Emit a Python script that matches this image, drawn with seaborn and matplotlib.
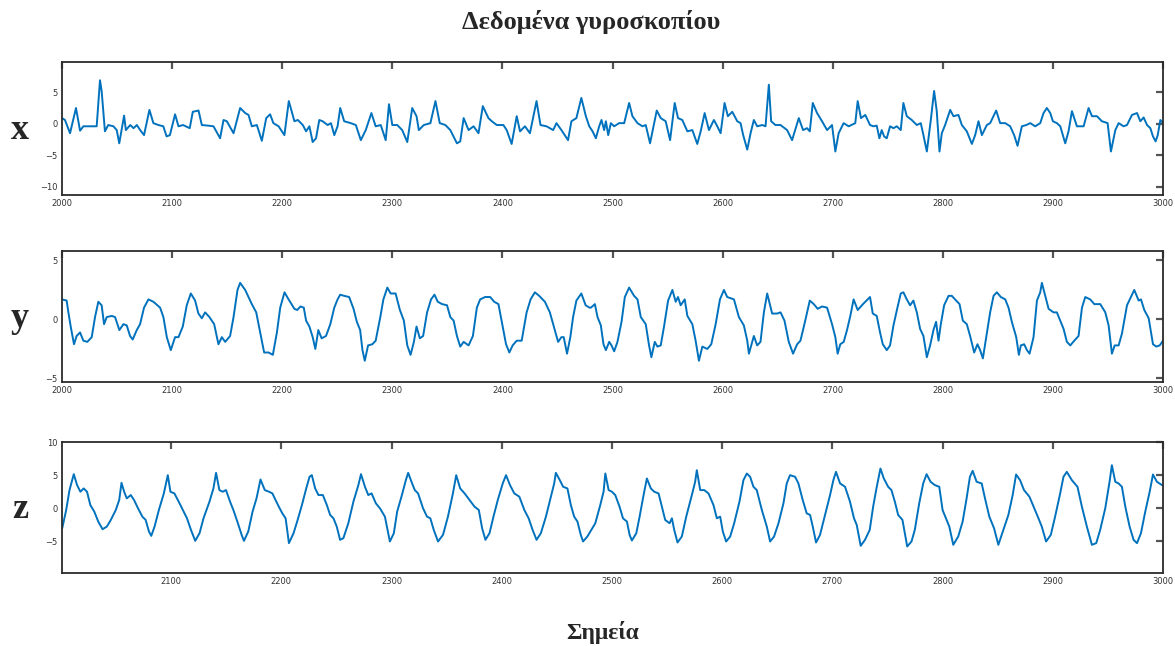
import matplotlib
matplotlib.use("Agg")
import matplotlib.pyplot as plt
import seaborn as sns
import pandas as pd

# ---------------- data ----------------
gx_t = [2000, 2002.7, 2007.3, 2012.7, 2016.4, 2019.4, 2031.5, 2034.5, 2036, 2039, 2042, 2046.7, 2049.7, 2052, 2056.4, 2058, 2062, 2065, 2068, 2071,
        2074.5, 2079.4, 2083, 2087.6, 2092, 2095, 2098, 2102.7, 2105.8, 2110, 2116, 2118.8, 2124, 2127, 2133, 2137.6, 2143.6, 2146.7, 2149.7, 2155.8,
        2161.8, 2166.4, 2169.4, 2172.4, 2177, 2181.5, 2185.5, 2189, 2192, 2196.7, 2202, 2206,
        2211.1, 2214.2, 2218.7, 2221.7, 2224.7, 2227.7, 2230.7, 2233.7, 2236.7, 2241.3, 2244.3, 2247.3, 2250.3, 2252.7, 2256.3, 2262.3, 2266.9, 2271.4,
        2275.9, 2281, 2284.9, 2289.5, 2294, 2297, 2300, 2304.5, 2309, 2313.6, 2318.1, 2322, 2324.1, 2328.6, 2334.6, 2339.2, 2343.1, 2348.2, 2352.7,
        2358.7, 2361.7, 2364.8, 2369.3, 2373.8, 2378.3, 2382.2, 2387.3, 2390.4, 2394.9, 2400.9, 2403.9, 2408.4, 2413, 2416, 2420.5, 2425, 2431,
        2434.6, 2440.1, 2446.1, 2449.1, 2453.6, 2459.6, 2462.7, 2467.2, 2471.7,
        2475.8, 2478.9, 2481.9, 2484.9, 2487.9, 2490, 2492.4, 2494, 2496.1, 2498.5, 2501.5, 2506, 2510.6, 2515.1, 2518.1, 2522.7, 2527.2, 2530.2,
        2534.1, 2536.3, 2540.2, 2543.8, 2548.3, 2552.3, 2556.5, 2559.5, 2563.4, 2568, 2572.5, 2577, 2580.1, 2583.7, 2587.6, 2592.1, 2595.2, 2598.2,
        2601.8, 2604.8, 2608.8, 2613.3, 2616.3, 2618.7, 2622.4, 2625.4, 2628.4, 2631.4, 2636, 2639, 2642, 2644.1, 2648, 2652.6, 2658.6, 2663.1,
        2669.2, 2673.1, 2676.7, 2679.2, 2681.9, 2685.8, 2690.3, 2694.9, 2699.4, 2702.4, 2705.4, 2709.9, 2714.5, 2720.5, 2722.7, 2725.7, 2729.6,
        2733.9, 2737, 2740, 2742.4, 2744.5, 2746.7, 2749.1, 2752.1, 2755.2, 2758.2, 2761.8, 2764.2, 2767.3, 2771.8, 2776.4, 2780, 2782.4, 2785.5,
        2789.1, 2792.1, 2794.5, 2797, 2799.1, 2802.1, 2806.7, 2809.7, 2814.2, 2817.3, 2821.8, 2826.4, 2829.4, 2832.4, 2835.5, 2840, 2843, 2848.5,
        2852.1, 2856.7, 2861.2, 2864.8, 2867.9, 2871.8, 2875.8, 2879.4, 2883.9, 2888.5, 2891.5, 2894.5, 2897.6, 2900, 2903.6, 2906.7, 2911.2,
        2914.2, 2917.3, 2921.8, 2927.9, 2932.4, 2935.5, 2940, 2944.5, 2949.7, 2952.7, 2956.7, 2959.7, 2964.2, 2967.3, 2971.8, 2976.4, 2979.4,
        2982.4, 2985.5, 2988.5, 2990.9, 2993.3, 2995.2, 2997.6, 3000]
gx_v = [0.9, 0.6, -1.5, 2.5, -1.1, -0.4, -0.4, 6.9, 5.2, -1.2, -0.2, -0.4, -1.0, -3.1, 1.3, -1.0, -0.2, -0.7, -0.2, -1.0,
        -1.8, 2.2, 0.1, -0.2, -0.4, -2.0, -1.8, 1.5, -0.4, -0.2, -0.7, 1.9, 2.1, -0.2, -0.3, -0.4, -2.3, 0.6, 0.4, -1.5,
        2.5, 1.7, 1.4, -0.4, -0.2, -2.7, 0.9, 1.5, 0.1, -0.4, -1.8, 3.6,
        0.4, 0.6, -0.2, -1.2, -0.4, -2.9, -2.3, 0.6, 0.4, -0.2, 0.1, -1.8, -0.4, 2.5, 0.4, 0.1, -0.2, -2.6, -1.0, 1.7,
        -0.4, -0.2, -2.6, 3.1, -0.2, -0.2, -1.0, -2.9, 2.5, 1.2, -1.0, -0.2, 0.1, 3.6, 0.1, -0.2, -1.0, -3.1, -2.8, 0.9,
        -1.0, -0.4, -1.5, 2.8, 0.9, 0.4, -0.2, -0.2, -1.0, -3.2, 1.2, -1.2, -0.4, -1.5, 3.6, -0.2, -0.4, -1.0, 0.1, -1.0,
        -2.6, 0.4, 0.9, 4.1,
        1.2, -0.4, -1.2, -2.3, -0.4, 0.6, -1.0, 0.4, -1.8, 0.1, -0.4, 0.1, 0.1, 3.3, 1.2, 0.1, -0.4, -0.2, -3.1, -1.2,
        2.1, 0.9, 0.4, -2.6, 3.3, 0.9, 0.6, -1.2, -1.0, -3.2, -1.2, 1.7, -1.0, 0.6, -0.4, -1.5, 3.3, 1.2, 1.9, 0.4,
        0.1, -1.8, -4.1, -1.5, 0.6, -0.4, -0.2, -0.4, 6.2, 0.4, -0.2, -0.2, -1.0, -2.6, 0.9, -1.0, -0.7, -1.2, 3.3, 1.7,
        0.4, -1.0, -0.2, -4.4, -1.5, 0.1, -0.4, 0.1, 3.6, 0.9, 1.4,
        -0.2, -0.4, -0.3, -2.3, -1.0, -2.0, -2.3, -0.4, -0.7, -0.4, -1.0, 3.3, 1.2, 0.6, -0.2, 0.1, -1.8, -4.4, 0.6, 5.2,
        2.0, -4.4, -1.5, -0.2, 2.2, 1.2, 1.4, -0.2, -1.2, -3.2, -1.8, 0.4, -1.8, -0.2, 0.1, 2.1, 0.1, 0.1, -0.4, -1.8,
        -3.5, -0.4, -0.2, 0.1, -0.4, 0.1, 1.7, 2.5, 1.7, 0.4, 0.1, -0.4, -3.1, -1.2, 2.0, -0.4, -0.4, 2.5, 1.2, 1.2,
        0.4, 0.1, -4.4, -1.0, 0.1, -0.4, -0.2, 1.4, 1.7, 0.4, 1.0, -0.2, -0.7, -2.0, -2.8, -1.8, 0.6, 0.1]

gy_t = [2000, 2004.2, 2005.8, 2007.9, 2010.9, 2013.3, 2016.4, 2019.4, 2023, 2027, 2030, 2033, 2036, 2038.2, 2040.6, 2045.2, 2048.2, 2052.1,
        2055.8, 2058.8, 2061.8, 2064.2, 2067.9, 2070.9, 2074.5, 2078.5, 2083, 2089.1, 2092.1, 2095.2, 2098.8, 2102.7, 2105.8, 2109.7, 2113.3,
        2117, 2120.9, 2123.9, 2127, 2130, 2133.9, 2138.2, 2142.1, 2145.2, 2148.2, 2152.7, 2155.8, 2159.4, 2161.8, 2166.4, 2172.4, 2176.4, 2180,
        2183.6, 2187.6, 2191.5, 2195.2, 2198.2, 2202.1, 2205.8,
        2211.1, 2213.6, 2216.6, 2219.6, 2221.7, 2224.7, 2227.7, 2230.1, 2232.8, 2235.8, 2239.8, 2243.7, 2247.3, 2250.3, 2252.7, 2256.3, 2260.8,
        2264.8, 2267.8, 2270.8, 2272.9, 2275, 2278, 2281.9, 2284.9, 2288.9, 2291.9, 2295.5, 2298.5, 2303, 2306.9, 2310.5, 2313.6, 2316.6, 2319.6,
        2322, 2325, 2328, 2331.6, 2335.2, 2338.3, 2341.3, 2345.2, 2349.7, 2352.7, 2355.7, 2358.7, 2361.7, 2364.8, 2369.3, 2373.2, 2376.8, 2379.8,
        2384.3, 2388.9, 2392.5, 2396.4, 2399.4, 2403.3, 2406.3, 2409.3, 2413, 2417.5, 2422, 2425.6, 2429.5, 2433.4, 2438.6, 2443.1, 2446.7,
        2450.6, 2453.6, 2455.7, 2458.7, 2461.7, 2464.2, 2467.2, 2471.7, 2475.6, 2479.2,
        2480.4, 2484, 2486.4, 2489.4, 2491.8, 2494, 2497, 2499.1, 2501.5, 2504.5, 2508.2, 2511.2, 2515.1, 2519.6, 2522.7, 2525.7, 2530.2, 2533.2,
        2535.3, 2538.4, 2540.8, 2543.8, 2546.8, 2550.5, 2554.4, 2557.4, 2559.5, 2561.9, 2565.6, 2568, 2572.5, 2575.5, 2578.5, 2581.6, 2586.1,
        2589.7, 2593.7, 2597.6, 2601.2, 2604.2, 2610.3, 2614.8, 2619.3, 2622.4, 2623.9, 2626, 2628.4, 2631.4, 2634.4, 2637.5, 2640.5, 2645,
        2649.5, 2652.6, 2656.2, 2660.1, 2664, 2667.7, 2670.7, 2674.3, 2679.2, 2682.8, 2686.4, 2690.3, 2694.9, 2699.4, 2702.4, 2704.5, 2706.9,
        2710, 2713, 2716, 2719, 2722.7, 2727.5,
        2733.9, 2736.4, 2740, 2743, 2745.5, 2749.1, 2752.1, 2755.2, 2758.8, 2761.8, 2764.2, 2767.3, 2770.3, 2773.3, 2776.4, 2779.4, 2782.4,
        2785.5, 2788.5, 2791.5, 2793.9, 2796.1, 2798.2, 2801.2, 2805.2, 2808.2, 2812.1, 2815.2, 2818.2, 2821.8, 2824.8, 2828.5, 2831.5, 2833.9,
        2836.4, 2839.4, 2843, 2846.1, 2849.1, 2852.7, 2856.7, 2859.7, 2862.7, 2866.7, 2869.1, 2870.9, 2873.9, 2876.4, 2878.8, 2882.4, 2885.5,
        2888.5, 2890, 2893, 2896.1, 2900.6, 2903.6, 2906.7, 2909.7, 2912.7, 2915.8, 2919.4, 2923.3, 2926.4, 2929.4, 2933.9, 2937.6, 2943,
        2947.6, 2950.6, 2953.6, 2956.1, 2959.7, 2962.7, 2967.3, 2970.9, 2973.9, 2977.9, 2980, 2983, 2987, 2990.9, 2993.9, 2997, 3000]
gy_v = [1.7, 1.6, 0.6, -0.6, -2.1, -1.4, -1.1, -1.8, -1.9, -1.5, 0.2, 1.5, 1.2, -0.4, 0.2, 0.3, 0.2, -0.9, -0.4, -0.5,
        -1.4, -1.7, -0.9, -0.4, 1.0, 1.7, 1.5, 1.0, 0.2, -1.5, -2.6, -1.5, -1.5, -0.6, 1.2, 2.2, 1.6, 0.5, 0.1, 0.6,
        0.2, -0.4, -2.1, -1.5, -1.9, -1.4, 0.2, 2.5, 3.1, 2.5, 1.3, 0.6, -1.1, -2.8, -2.8, -3.0, -1.1, 1.0, 2.3, 1.7,
        0.9, 0.8, 1.1, 1.0, -0.1, -0.6, -1.5, -2.5, -0.9, -1.6, -1.4, -0.4, 1.0, 1.7, 2.1, 2.0, 1.9, 0.9, -0.2, -0.9,
        -2.6, -3.5, -2.2, -2.1, -1.8, 0.1, 1.7, 2.7, 2.2, 2.2, 0.8, -0.1, -2.2, -3.0, -1.9, -0.6, -1.6, -1.4, 0.6, 1.7,
        2.1, 1.5, 1.3, 1.2, 0.2, -0.1, -1.4, -2.3, -1.9, -2.2, -1.4, 1.0, 1.7, 1.9, 1.9, 1.5, 1.3, -0.2, -2.1, -2.8,
        -2.2, -1.8, -1.8, 0.6, 1.7, 2.3, 2.0, 1.5, 0.6, -0.6, -1.9, -1.5, -1.5, -2.9, -1.5, 0.2, 1.6, 2.2, 1.2, 1.0,
        1.0, 1.3, 0.2, -0.5, -2.1, -2.6, -1.9, -2.2, -2.7, -1.9, -0.2, 1.9, 2.7, 2.0, 1.7, 0.2, -0.4, -2.2, -3.2, -1.9,
        -2.3, -2.2, -0.6, 1.6, 2.5, 1.5, 1.9, 1.2, 1.7, 0.3, -0.4, -1.8, -3.5, -2.3, -2.5, -2.1, -0.4, 1.7, 2.5, 1.9,
        1.7, 0.2, -0.5, -1.8, -2.9, -2.2, -1.4, -2.2, -1.9, 0.6, 2.2, 0.5, 0.5, 0.6, -0.1, -1.9, -2.9, -2.1, -1.8, -0.4,
        1.6, 1.3, 0.9, 1.1, 1.0, -0.4, -1.5, -2.9, -2.1, -1.9, -0.9, 0.3, 1.7, 0.8, 1.3,
        1.9, 0.5, 0.3, -1.1, -2.1, -2.6, -2.2, -0.5, 1.0, 2.2, 2.3, 1.7, 1.2, 1.6, 0.6, -0.8, -1.4, -3.2, -2.2, -0.9,
        -0.2, -1.8, -0.4, 1.2, 2.0, 2.0, 1.6, 1.3, -0.1, -0.4, -1.4, -2.8, -2.1, -2.6, -3.3, -1.5, 0.6, 2.0, 2.3, 1.9,
        1.7, 1.0, -0.2, -1.5, -3.0, -2.2, -2.1, -2.6, -2.9, -1.5, 1.6, 2.3, 3.1, 2.0, 0.9, 0.6, 0.6, -0.1, -0.8, -1.9,
        -2.2, -1.8, -1.4, 1.0, 1.9, 1.7, 1.3, 1.3, 0.6, -0.5, -2.9, -2.2, -2.2, -1.2, 1.2, 1.9, 2.5, 1.6, 1.7, 0.8,
        0.1, -2.1, -2.3, -2.2, -1.8]

gz_t = [2001.2, 2004.8, 2007.8, 2011.7, 2014.7, 2017.7, 2020.7, 2023.7, 2026.7, 2030.3, 2033.9, 2037.8, 2041.7, 2045.3, 2049.8, 2052.9,
        2055, 2057.4, 2059.8, 2063.4, 2066.4, 2070, 2073.9, 2076.9, 2079.9, 2082, 2085, 2088.9, 2093.4, 2097, 2099.4, 2103, 2106.9, 2109.9,
        2114.4, 2118, 2121.9, 2125.8, 2129.4, 2134.8, 2138.4, 2140.8, 2143.8, 2146.8, 2149.8, 2153.5, 2156.5, 2160.1, 2164, 2166.1, 2170,
        2173.9, 2177.5, 2181.1, 2185, 2188.9, 2191.9, 2195.5, 2198.5, 2200.9, 2203.9, 2206.9,
        2211.1, 2214.8, 2218.7, 2222.6, 2225.6, 2227.7, 2230.7, 2233.7, 2237.7, 2241.3, 2244.3, 2247.3, 2250.3, 2253.3, 2256.3, 2260.8, 2265.4,
        2269.9, 2272.3, 2275.9, 2278.9, 2281.9, 2285.8, 2289.5, 2294, 2296.1, 2298.5, 2302.1, 2305.1, 2309, 2313, 2315.1, 2318.1, 2321.1,
        2324.1, 2328.6, 2332.2, 2335.2, 2338.3, 2342.2, 2346.7, 2351.2, 2355.7, 2358.7, 2362.3, 2366.3, 2370.8, 2375.3, 2379.2, 2382.2, 2385.2,
        2388.9, 2392.5, 2396.4, 2400.9, 2403.9, 2407.5, 2411.4, 2416, 2420.5, 2424.4, 2428, 2431.6, 2435.5, 2440.1, 2444.6, 2447.6, 2449.1,
        2452.7, 2455.7, 2459.6, 2462.7, 2465.7, 2468.7, 2471.7, 2473.8, 2477.7,
        2484.9, 2489.4, 2492.4, 2494, 2497, 2500, 2503, 2506.9, 2510, 2513.6, 2516, 2518.1, 2522.1, 2525.1, 2528.7, 2531.7, 2535.3, 2538.4,
        2542.3, 2545.3, 2548.3, 2552.3, 2554.4, 2556.5, 2559.5, 2563.4, 2567.4, 2572.5, 2575.5, 2577, 2580.1, 2583.7, 2587.6, 2592.1, 2595.2,
        2598.2, 2600.6, 2603.6, 2607.3, 2610.9, 2615.7, 2619.3, 2622.4, 2625.4, 2628.4, 2631.4, 2636, 2640.5, 2643.5, 2647.1, 2651.1, 2655.6,
        2658.6, 2661.6, 2666.2, 2669.2, 2673.1, 2676.7, 2679.8, 2682.2, 2685.2, 2688.8, 2693.4, 2697.9, 2700.9, 2703.3, 2707, 2711.5, 2716,
        2719.6, 2722.1, 2725.7, 2729.6,
        2733.9, 2737, 2740, 2743.6, 2746.7, 2750.6, 2753.6, 2756.7, 2759.7, 2763.6, 2765.8, 2767.9, 2771.8, 2774.8, 2778.8, 2782.4, 2785.5,
        2789.1, 2793, 2797, 2800, 2803.6, 2806.1, 2809.7, 2814.2, 2818.2, 2821.8, 2824.8, 2827.3, 2830.9, 2835.5, 2838.5, 2842.4, 2846.7,
        2850.6, 2855.2, 2859.7, 2863.6, 2866.7, 2870.3, 2873.9, 2878.8, 2883.9, 2887, 2890, 2893.9, 2898.2, 2902.1, 2906.7, 2909.7, 2912.7,
        2917.3, 2922.4, 2926.4, 2930.9, 2935.5, 2939.4, 2943, 2947.6, 2951.5, 2953.6, 2956.7, 2959.7, 2962.7, 2965.8, 2969.7, 2973.3, 2976.4,
        2980, 2983.9, 2987.9, 2990.9, 2994.5, 2999.1]
gz_v = [-3.0, -0.25, 2.75, 5.15, 3.5, 2.5, 3.0, 2.5, 0.5, -0.5, -2.0, -3.15, -2.75, -1.75, -0.25, 1.25, 3.85, 2.5, 1.5, 2.0,
        1.25, 0, -1.25, -1.75, -3.5, -4.15, -2.75, -0.25, 2.25, 5.0, 2.5, 2.25, 1.0, 0, -1.5, -3.25, -4.9, -3.75, -1.5, 1.0,
        3.0, 5.35, 2.75, 2.5, 2.75, 1.0, -0.25, -2.0, -4.0, -4.9, -3.5, -0.5, 1.5, 4.35, 2.75, 2.5, 2.25, 1.0, 0, -0.75,
        -1.5, -5.25,
        -3.75, -1.75, 0.5, 3.0, 4.75, 5.0, 3.0, 2.0, 2.0, 0.5, -1.0, -1.5, -2.75, -4.75, -4.5, -2.25, 1.0, 3.5, 5.15, 3.25,
        2.0, 2.25, 0.75, 0, -1.25, -3.0, -5.0, -3.75, -0.5, 1.75, 4.25, 5.35, 4.0, 2.75, 2.25, 0, -1.25, -1.5, -3.25, -5.0,
        -4.0, -1.25, 2.25, 5.0, 3.0, 2.25, 1.25, 0.25, -0.25, -3.0, -4.75, -3.75, -1.25, 1.25, 3.75, 5.0, 3.5, 2.25, 1.75, -0.25,
        -1.5, -3.25, -4.75, -3.75, -1.25, 1.75, 3.75, 5.35, 4.25, 3.25, 3.0, 0.5, -1.25, -2.0, -4.0, -5.0, -4.25,
        -2.25, 0.5, 2.5, 5.25, 2.75, 2.5, 2.0, 0.25, -1.5, -2.0, -4.0, -4.85, -3.75, -1.25, 2.0, 4.5, 3.0, 2.5, 2.25, 0.25,
        -1.75, -2.25, -1.5, -3.25, -5.15, -4.25, -1.25, 2.0, 4.0, 5.75, 2.75, 2.75, 2.25, 0.5, -1.5, -1.25, -3.5, -5.0, -4.25, -2.25,
        1.0, 4.25, 5.25, 4.75, 3.25, 2.75, -0.25, -2.75, -5.0, -4.25, -2.25, 0.75, 3.75, 5.0, 4.75, 3.75, 1.25, -0.75, -1.0, -2.75,
        -5.15, -4.0, -1.0, 2.0, 4.25, 5.5, 3.75, 3.25, 1.0, -1.5, -2.5, -5.65, -4.75,
        -3.25, 0.25, 3.0, 6.0, 4.5, 3.25, 2.75, 1.0, -1.0, -1.75, -3.75, -5.75, -5.0, -3.25, 0.75, 3.75, 5.15, 4.0, 3.5, 3.25,
        -0.25, -1.75, -2.75, -5.5, -4.25, -2.0, 1.5, 4.75, 5.65, 4.0, 3.75, 1.5, -1.25, -3.0, -5.5, -3.25, -1.0, 2.0, 5.1, 4.25,
        2.75, 1.75, -0.25, -1.5, -2.75, -5.0, -4.0, -1.25, 2.25, 4.75, 5.5, 4.25, 3.25, 0.25, -2.75, -5.5, -5.25, -3.25, 0, 4.0,
        6.5, 4.0, 3.75, 3.25, 0.25, -2.75, -4.75, -5.25, -3.75, -0.5, 2.5, 5.1, 4.0, 3.5]

panel_labels = ["x", "y", "z"]
x_ticks = [list(range(2000, 3001, 100)), list(range(2000, 3001, 100)), list(range(2100, 3001, 100))]
y_ticks = [[-10, -5, 0, 5], [-5, 0, 5], [-5, 0, 5, 10]]
title_text = "Δεδομένα γυροσκοπίου"
xlabel_text = "Σημεία"

for a, b in [(gx_t, gx_v), (gy_t, gy_v), (gz_t, gz_v)]:
    assert len(a) == len(b), (len(a), len(b))

# ---------------- figure ----------------
sns.set_style("white")
plt.rcParams["font.family"] = ["DejaVu Sans"]

W, H = 1175, 646
fig = plt.figure(figsize=(W / 100, H / 100), dpi=100)

# axes boxes in pixels (left, top, right, bottom)
boxes = [(62, 62, 1163, 195), (62, 251, 1163, 382), (62, 442, 1163, 573)]
ylims = [(-11.3, 9.8), (-5.3, 5.8), (-9.75, 10)]
xlims = [(2000, 3000), (2000, 3000), (2001, 3000)]
series = [(gx_t, gx_v), (gy_t, gy_v), (gz_t, gz_v)]

line_color = "#0072BD"
for i, ((l, t, r, b), (ts, vs)) in enumerate(zip(boxes, series)):
    ax = fig.add_axes([l / W, 1 - b / H, (r - l) / W, (b - t) / H])
    df = pd.DataFrame({"t": ts, "v": vs})
    sns.lineplot(data=df, x="t", y="v", ax=ax, color=line_color, linewidth=1.4, estimator=None)
    ax.set_xlim(*xlims[i])
    ax.set_ylim(*ylims[i])
    ax.set_xticks(x_ticks[i])
    ax.set_yticks(y_ticks[i])
    ax.set_xlabel("")
    ax.set_ylabel("")
    ax.tick_params(direction="in", top=True, right=True, length=5, width=1.6,
                   color="#555555", labelsize=6, labelcolor="#333333", pad=3)
    for s in ax.spines.values():
        s.set_color("#2b2b2b")
        s.set_linewidth(1.3)
    fig.text(20 / W, 1 - ((t + b) / 2 + 2) / H, panel_labels[i], ha="center", va="center",
             fontsize=26, fontweight="bold", family="Liberation Serif")

fig.text(591 / W, 1 - 22 / H, title_text, ha="center", va="center",
         fontsize=19, fontweight="bold", family="Liberation Serif")
fig.text(603 / W, 1 - 632 / H, xlabel_text, ha="center", va="center",
         fontsize=17, fontweight="bold", family="Liberation Serif")

fig.savefig("out.png", dpi=100)
